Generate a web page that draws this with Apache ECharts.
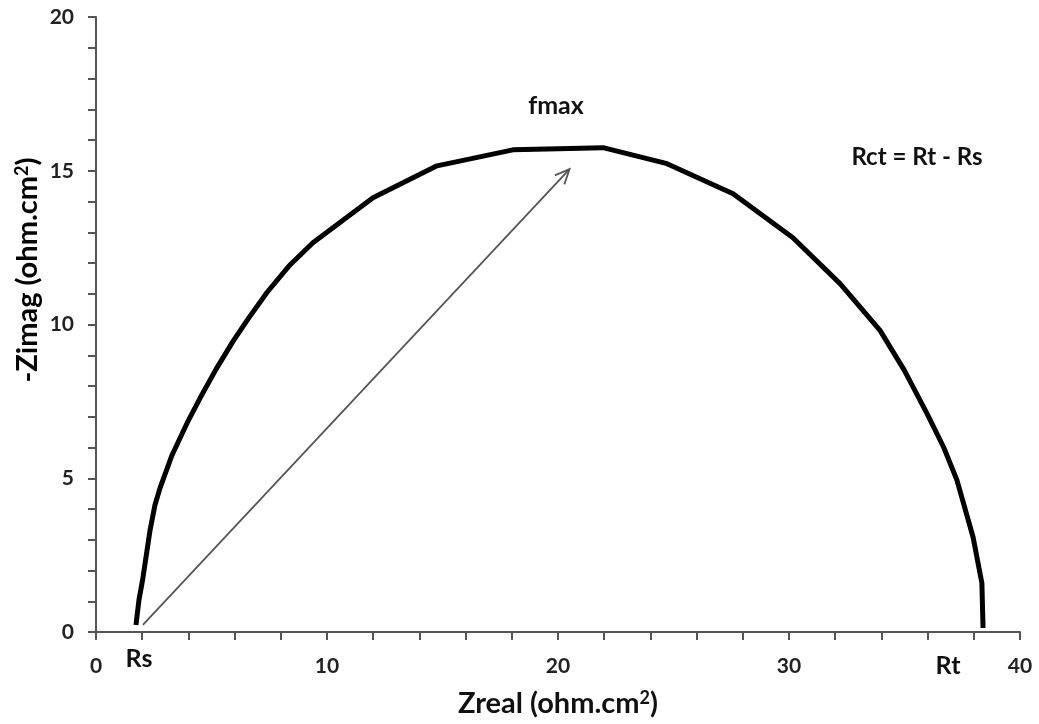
<!DOCTYPE html>
<html>
<head>
<meta charset="utf-8">
<script src="https://cdn.jsdelivr.net/npm/echarts@6/dist/echarts.min.js"></script>
<style>
html,body{margin:0;padding:0;background:#fff;}
#chart{width:1039px;height:724px;}
</style>
</head>
<body>
<div id="chart"></div>
<script>
// Nyquist curve: Zreal (x) and -Zimag (y)
const zreal = [1.73, 1.86, 2.03, 2.34, 2.55, 2.77, 3.29, 3.94, 4.50, 5.20, 5.93, 6.60, 7.40, 8.35, 9.39, 11.99, 14.76, 18.05, 21.95, 24.72, 27.58, 30.17, 32.21, 33.94, 35.00, 35.97, 36.70, 37.27, 37.97, 38.35, 38.40];
const zimag = [0.23, 1.04, 1.75, 3.31, 4.12, 4.68, 5.75, 6.79, 7.60, 8.55, 9.45, 10.20, 11.04, 11.90, 12.66, 14.12, 15.16, 15.68, 15.75, 15.23, 14.25, 12.82, 11.33, 9.81, 8.50, 7.11, 6.00, 4.94, 3.08, 1.59, 0.13];
// Arrow from Rs toward fmax
const arrowFrom = [2.03, 0.23];
const arrowTo = [20.5, 15.05];
const xTicks = [0, 10, 20, 30, 40];
const yTicks = [0, 5, 10, 15, 20];

const FONT = 'Lato, "Open Sans", sans-serif';
const chart = echarts.init(document.getElementById('chart'));
const curve = zreal.map((x, i) => [x, zimag[i]]);

const titleRich = {
  a: {fontFamily: FONT, fontSize: 29, fontWeight: 'bold', color: '#111'},
  s: {fontFamily: FONT, fontSize: 18, fontWeight: 'bold', color: '#111', verticalAlign: 'top', padding: [0, 0, 11, 0]}
};

chart.setOption({
  animation: false,
  backgroundColor: '#fff',
  grid: {left: 96, right: 19, top: 17, bottom: 92, containLabel: false, outerBoundsMode: 'none'},
  xAxis: {
    type: 'value', min: xTicks[0], max: xTicks[xTicks.length - 1], interval: 10,
    name: '{a|Zreal (ohm.cm}{s|2}{a|)}', nameLocation: 'middle', nameGap: 57,
    nameTextStyle: {rich: titleRich},
    axisLine: {lineStyle: {color: '#555', width: 2}},
    axisTick: {show: true, length: 8, lineStyle: {color: '#555', width: 2}},
    minorTick: {show: true, splitNumber: 5, length: 8, lineStyle: {color: '#555', width: 2}},
    axisLabel: {fontFamily: FONT, fontSize: 21, fontWeight: 'bold', color: '#222', margin: 24},
    splitLine: {show: false}
  },
  yAxis: {
    type: 'value', min: yTicks[0], max: yTicks[yTicks.length - 1], interval: 5,
    axisLine: {show: true, lineStyle: {color: '#555', width: 2}},
    axisTick: {show: true, length: 8, lineStyle: {color: '#555', width: 2}},
    minorTick: {show: true, splitNumber: 5, length: 8, lineStyle: {color: '#555', width: 2}},
    axisLabel: {fontFamily: FONT, fontSize: 21, fontWeight: 'bold', color: '#222', margin: 22},
    splitLine: {show: false}
  },
  series: [
    {
      type: 'line', data: curve, showSymbol: false, symbol: 'none', smooth: false,
      lineStyle: {color: '#000', width: 5}, z: 3
    },
    {
      type: 'custom', data: [[arrowFrom[0], arrowFrom[1], arrowTo[0], arrowTo[1]]],
      renderItem: function (params, api) {
        const p0 = api.coord([api.value(0), api.value(1)]);
        const p1 = api.coord([api.value(2), api.value(3)]);
        const ang = Math.atan2(p1[1] - p0[1], p1[0] - p0[0]);
        const L = 16, spread = 0.42;
        const a1 = [p1[0] - L * Math.cos(ang - spread), p1[1] - L * Math.sin(ang - spread)];
        const a2 = [p1[0] - L * Math.cos(ang + spread), p1[1] - L * Math.sin(ang + spread)];
        const style = {stroke: '#555', lineWidth: 1.8, fill: null};
        return {type: 'group', children: [
          {type: 'line', shape: {x1: p0[0], y1: p0[1], x2: p1[0], y2: p1[1]}, style: style},
          {type: 'polyline', shape: {points: [a1, p1, a2]}, style: style}
        ]};
      },
      z: 2
    }
  ],
  graphic: [
    {type: 'text', x: 28, y: 270, rotation: Math.PI / 2,
      style: {text: '{a|-Zimag (ohm.cm}{s|2}{a|)}', rich: titleRich, align: 'center', verticalAlign: 'middle'}},
    {type: 'text', x: 556, y: 106, style: {text: 'fmax', font: 'bold 25px ' + FONT, fill: '#111', align: 'center', verticalAlign: 'middle'}},
    {type: 'text', x: 917, y: 157, style: {text: 'Rct = Rt - Rs', font: 'bold 24px ' + FONT, fill: '#111', align: 'center', verticalAlign: 'middle'}},
    {type: 'text', x: 139, y: 659, style: {text: 'Rs', font: 'bold 25px ' + FONT, fill: '#111', align: 'center', verticalAlign: 'middle'}},
    {type: 'text', x: 948, y: 666, style: {text: 'Rt', font: 'bold 25px ' + FONT, fill: '#111', align: 'center', verticalAlign: 'middle'}}
  ]
});
</script>
</body>
</html>
